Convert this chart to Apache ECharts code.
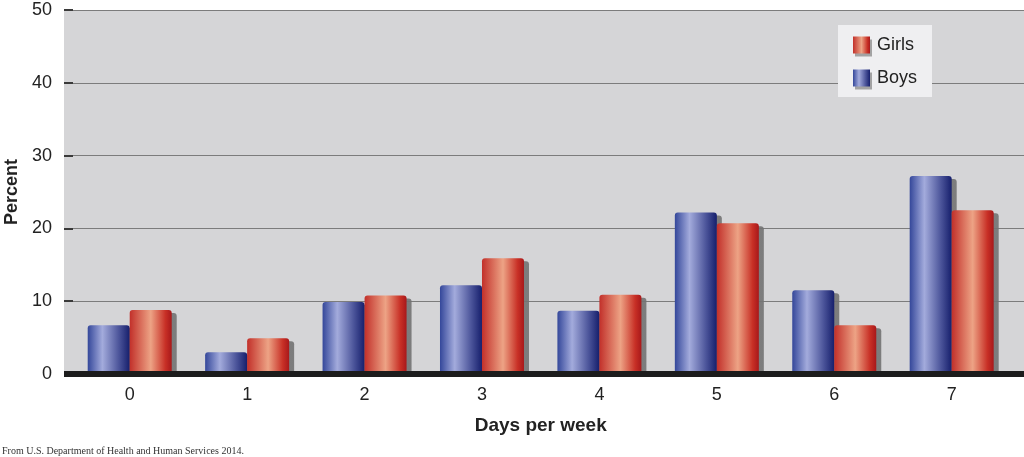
<!DOCTYPE html>
<html><head><meta charset="utf-8">
<script src="https://cdn.jsdelivr.net/npm/echarts@6/dist/echarts.min.js"></script>
<style>html,body{margin:0;padding:0;background:#fff}#c{width:1024px;height:457px}</style>
</head><body><div id="c"></div>
<script>
const categories = ['0','1','2','3','4','5','6','7'];
const boys = [6.7, 3.0, 9.9, 12.2, 8.7, 22.2, 11.5, 27.2];
const girls = [8.8, 4.9, 10.8, 15.9, 10.9, 20.7, 6.7, 22.5];
const yTicks = [0, 10, 20, 30, 40, 50];

const blueGrad = new echarts.graphic.LinearGradient(0,0,1,0,[
  {offset:0,color:'#34479a'},{offset:0.35,color:'#a3abdc'},{offset:0.75,color:'#4a5399'},{offset:1,color:'#161f6c'}]);
const redGrad = new echarts.graphic.LinearGradient(0,0,1,0,[
  {offset:0,color:'#c2302a'},{offset:0.5,color:'#eda385'},{offset:0.85,color:'#c83026'},{offset:1,color:'#a8181a'}]);
const font = '"Liberation Sans", Arial, sans-serif';
const shadow = {shadowColor:'rgba(115,115,115,0.9)', shadowOffsetX:5, shadowOffsetY:3, shadowBlur:0};
const chart = echarts.init(document.getElementById('c'));
chart.setOption({
  animation:false,
  graphic:[
    {type:'rect', z:100, shape:{x:64,y:371,width:960,height:6}, style:{fill:'#1c1c1c'}},
    {type:'text', left:2, top:446, style:{text:'From U.S. Department of Health and Human Services 2014.', font:'10px "Liberation Serif", serif', fill:'#333'}}
  ],
  grid:[
    {left:64, right:0, top:10, bottom:83, show:true, backgroundColor:'#d5d5d7', borderWidth:0, outerBoundsMode:'none', containLabel:false},
    {left:71, right:13.6, top:10, bottom:83, outerBoundsMode:'none', containLabel:false}
  ],
  legend:{
    data:['Girls','Boys'], orient:'vertical', left:838, top:25, icon:'rect',
    padding:[11,15,10,15], itemGap:15, itemWidth:17, itemHeight:17,
    backgroundColor:'#efeff1',
    itemStyle:{shadowColor:'rgba(130,130,130,0.7)', shadowOffsetX:2, shadowOffsetY:3, shadowBlur:0},
    textStyle:{fontFamily:font, fontSize:18, color:'#222', padding:[0,0,0,2]}
  },
  xAxis:[
    {type:'value', gridIndex:0, min:0, max:1, show:false},
    {type:'category', gridIndex:1, data:categories,
     axisLine:{show:false}, axisTick:{show:false},
     axisLabel:{fontFamily:font, fontSize:18, color:'#222', margin:12},
     name:'Days per week', nameLocation:'middle', nameGap:42,
     nameTextStyle:{fontFamily:font, fontSize:19, fontWeight:'bold', color:'#222'}}
  ],
  yAxis:[
    {type:'value', gridIndex:0, min:0, max:50, interval:10,
     axisLine:{show:false},
     axisTick:{show:true, inside:true, length:9, lineStyle:{color:'#3a3a3a', width:2}},
     axisLabel:{fontFamily:font, fontSize:18, color:'#222', margin:12,
       formatter:v=>yTicks.includes(v)?String(v):''},
     splitLine:{lineStyle:{color:'#7c7c7c', width:1}},
     name:'Percent', nameLocation:'middle', nameGap:41,
     nameTextStyle:{fontFamily:font, fontSize:18, fontWeight:'bold', color:'#222'}},
    {type:'value', gridIndex:1, min:0, max:50, show:false}
  ],
  series:[
    {name:'Boys', type:'bar', xAxisIndex:1, yAxisIndex:1, data:boys, barWidth:42, barGap:'0%',
     itemStyle:Object.assign({color:blueGrad, borderRadius:[3,3,0,0]}, shadow)},
    {name:'Girls', type:'bar', xAxisIndex:1, yAxisIndex:1, data:girls, barWidth:42, barGap:'0%',
     itemStyle:Object.assign({color:redGrad, borderRadius:[3,3,0,0]}, shadow)}
  ]
});
</script></body></html>
